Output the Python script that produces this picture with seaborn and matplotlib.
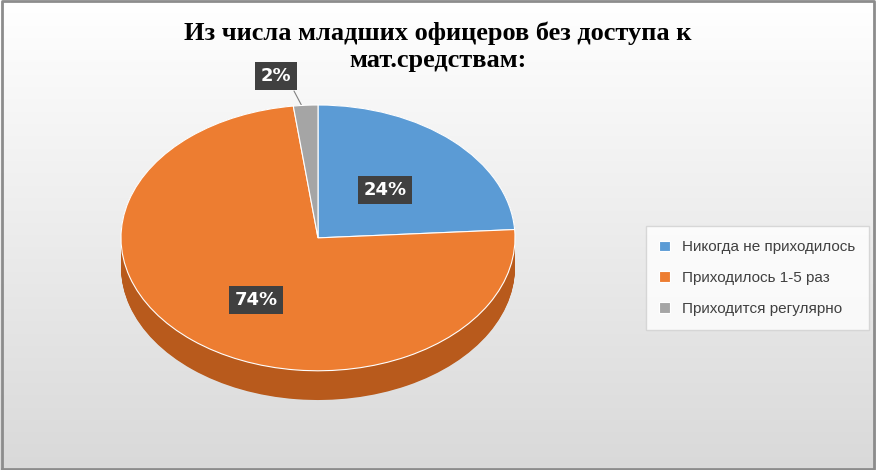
import numpy as np
import matplotlib
matplotlib.use("Agg")
import matplotlib.pyplot as plt
import seaborn as sns

categories = ["Никогда не приходилось", "Приходилось 1-5 раз", "Приходится регулярно"]
values = [24, 74, 2]
labels = ["24%", "74%", "2%"]

sns.set_theme(style="white")
colors = ["#5b9bd5", "#ed7d31", "#a5a5a5"]
dark = ["#3f75a8", "#b85a1c", "#7f7f7f"]

W, H = 876, 470
fig = plt.figure(figsize=(W/100, H/100), dpi=100)
bg = fig.add_axes([0, 0, 1, 1])
grad = np.linspace(1, 0, 256)[:, None]
bg.imshow(grad, aspect="auto", cmap=matplotlib.colors.LinearSegmentedColormap.from_list("g", ["#d9d9d9", "#ffffff"]),
          extent=[0, 1, 0, 1])
bg.plot([0.002, 0.998, 0.998, 0.002, 0.002], [0.003, 0.003, 0.997, 0.997, 0.003], color="#8c8c8c", lw=2)
bg.set_xlim(0, 1); bg.set_ylim(0, 1); bg.axis("off")

def fx(px): return px / W
def fy(py): return 1 - py / H

ax = fig.add_axes([fx(121), fy(404), 394/W, 299/H])
depth = 0.22
for off in np.linspace(-depth, 0, 40):
    ax.pie(values, colors=dark, startangle=90, counterclock=False, radius=1, center=(0, off),
           wedgeprops=dict(linewidth=0))
wedges, _ = ax.pie(values, colors=colors, startangle=90, counterclock=False, radius=1, center=(0, 0),
                   wedgeprops=dict(linewidth=0.8, edgecolor="white"))
ax.set_aspect("auto")
ax.set_xlim(-1, 1); ax.set_ylim(-1 - depth - 0.03, 1)
ax.axis("off")

fig.text(0.5, fy(47), "Из числа младших офицеров без доступа к\nмат.средствам:", ha="center", va="center",
         fontsize=19, fontweight="bold", family="Liberation Serif", linespacing=1.2, color="black")

box = dict(boxstyle="square,pad=0.3", facecolor="#404040", edgecolor="none")
pos = [(385, 190), (256, 300), (276, 76)]
for (x, y), t in zip(pos, labels):
    fig.text(fx(x), fy(y), t, ha="center", va="center", color="white", fontsize=13,
             fontweight="bold", bbox=box)
bg.plot([fx(294), fx(304)], [fy(91), fy(110)], color="#808080", lw=0.8)

leg = fig.legend(wedges, categories, loc="center left", bbox_to_anchor=(fx(638), fy(278)),
                 frameon=True, fontsize=10.5, handlelength=0.7, handleheight=0.7, labelspacing=1.1,
                 borderpad=0.9, fancybox=False, prop={"family": "Liberation Sans", "size": 11})
leg.get_frame().set_edgecolor("#d0d0d0")
leg.get_frame().set_facecolor("white")
for t in leg.get_texts():
    t.set_color("#404040")

fig.savefig("out.png", dpi=100)
